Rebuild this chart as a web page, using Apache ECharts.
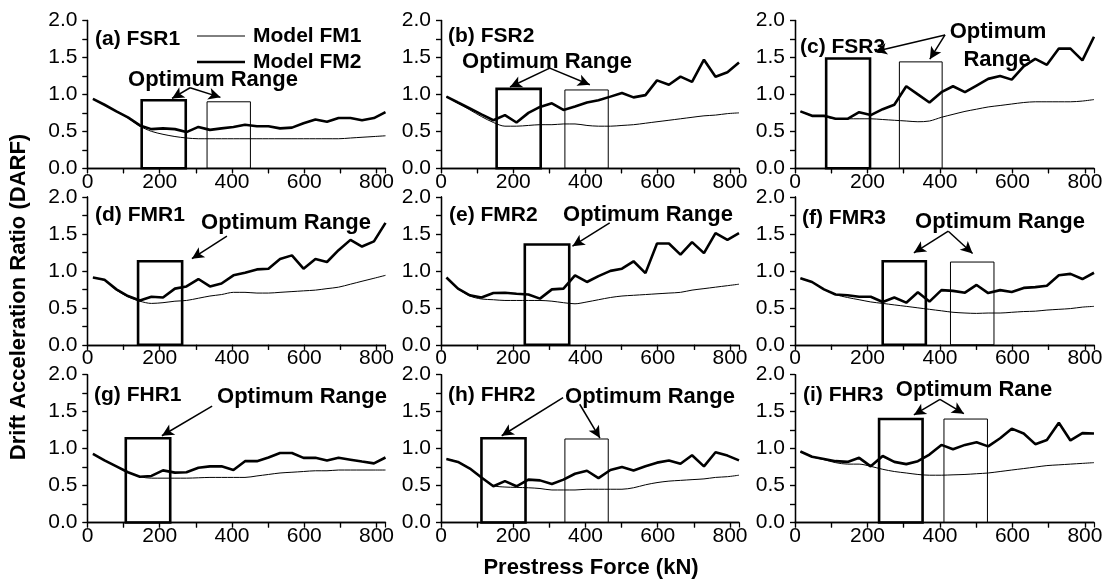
<!DOCTYPE html>
<html><head><meta charset="utf-8">
<script src="https://cdn.jsdelivr.net/npm/echarts@6/dist/echarts.min.js"></script>
<style>html,body{margin:0;padding:0;background:#fff}#c{width:1109px;height:584px}</style>
</head><body><div id="c"></div>
<script>
// Prestress force samples (kN)
const xs = [15,47,80,112,145,177,209,242,274,307,339,371,404,436,469,501,533,566,598,631,663,695,728,760,793,825];
const panelNames = ['(a) FSR1','(b) FSR2','(c) FSR3','(d) FMR1','(e) FMR2','(f) FMR3','(g) FHR1','(h) FHR2','(i) FHR3'];
const seriesNames = ['Model FM1', 'Model FM2'];
const xTicks = [0,200,400,600,800];
const yTicks = ['0.0','0.5','1.0','1.5','2.0'];

const fm1_a = [0.94,0.86,0.77,0.68,0.57,0.50,0.46,0.43,0.41,0.40,0.40,0.40,0.40,0.40,0.40,0.40,0.40,0.40,0.40,0.40,0.40,0.40,0.41,0.42,0.43,0.44];
const fm2_a = [0.94,0.86,0.77,0.69,0.58,0.53,0.54,0.53,0.49,0.56,0.52,0.54,0.56,0.59,0.57,0.57,0.54,0.55,0.61,0.66,0.63,0.68,0.68,0.65,0.68,0.76];
const fm1_b = [0.97,0.88,0.79,0.70,0.62,0.57,0.57,0.58,0.59,0.59,0.60,0.60,0.58,0.57,0.57,0.58,0.59,0.61,0.63,0.65,0.67,0.69,0.71,0.72,0.74,0.75];
const fm2_b = [0.97,0.89,0.81,0.73,0.65,0.72,0.62,0.75,0.83,0.88,0.79,0.835,0.89,0.92,0.97,1.02,0.96,0.99,1.19,1.13,1.24,1.17,1.47,1.24,1.30,1.43];
const fm1_c = [0.77,0.71,0.70,0.67,0.67,0.67,0.67,0.66,0.65,0.64,0.63,0.64,0.69,0.73,0.77,0.80,0.83,0.85,0.87,0.89,0.90,0.90,0.90,0.90,0.91,0.93];
const fm2_c = [0.77,0.71,0.71,0.67,0.67,0.76,0.72,0.80,0.86,1.11,1.00,0.89,1.03,1.11,1.03,1.12,1.21,1.25,1.20,1.38,1.48,1.40,1.62,1.62,1.46,1.78];
const fm1_d = [0.91,0.87,0.74,0.65,0.59,0.56,0.57,0.59,0.60,0.63,0.66,0.68,0.71,0.71,0.70,0.70,0.71,0.72,0.73,0.74,0.76,0.78,0.82,0.86,0.90,0.94];
const fm2_d = [0.91,0.88,0.75,0.66,0.60,0.65,0.64,0.76,0.79,0.89,0.79,0.83,0.94,0.975,1.02,1.03,1.16,1.21,1.03,1.16,1.12,1.28,1.42,1.33,1.40,1.65];
const fm1_e = [0.90,0.76,0.66,0.62,0.61,0.60,0.60,0.60,0.60,0.59,0.57,0.555,0.58,0.61,0.64,0.66,0.67,0.68,0.69,0.70,0.71,0.74,0.76,0.78,0.80,0.82];
const fm2_e = [0.91,0.76,0.67,0.64,0.70,0.705,0.69,0.68,0.625,0.75,0.76,0.94,0.85,0.93,1.00,1.03,1.13,0.97,1.37,1.37,1.22,1.39,1.24,1.51,1.42,1.51];
const fm1_f = [0.90,0.85,0.75,0.68,0.64,0.61,0.58,0.56,0.54,0.52,0.50,0.48,0.46,0.44,0.43,0.425,0.43,0.43,0.44,0.45,0.455,0.47,0.48,0.49,0.51,0.52];
const fm2_f = [0.90,0.85,0.75,0.68,0.67,0.65,0.65,0.58,0.64,0.57,0.71,0.585,0.74,0.73,0.705,0.81,0.70,0.74,0.715,0.77,0.78,0.80,0.94,0.96,0.89,0.975];
const fm1_g = [0.93,0.84,0.76,0.68,0.62,0.60,0.60,0.60,0.60,0.605,0.61,0.61,0.61,0.61,0.63,0.65,0.67,0.68,0.69,0.70,0.70,0.71,0.71,0.71,0.71,0.71];
const fm2_g = [0.93,0.84,0.76,0.68,0.62,0.63,0.705,0.675,0.68,0.74,0.76,0.76,0.71,0.83,0.83,0.88,0.94,0.94,0.875,0.875,0.84,0.875,0.85,0.825,0.80,0.88];
const fm1_h = [0.86,0.82,0.73,0.61,0.50,0.48,0.475,0.47,0.46,0.44,0.44,0.44,0.45,0.45,0.45,0.45,0.47,0.51,0.54,0.56,0.57,0.58,0.59,0.61,0.62,0.64];
const fm2_h = [0.86,0.82,0.73,0.61,0.49,0.56,0.49,0.58,0.57,0.52,0.58,0.66,0.70,0.60,0.71,0.75,0.705,0.76,0.81,0.84,0.795,0.91,0.76,0.95,0.905,0.84];
const fm1_i = [0.96,0.89,0.85,0.81,0.79,0.79,0.76,0.72,0.69,0.67,0.65,0.64,0.64,0.645,0.65,0.66,0.67,0.69,0.71,0.73,0.75,0.77,0.78,0.79,0.80,0.81];
const fm2_i = [0.96,0.89,0.86,0.83,0.82,0.875,0.76,0.90,0.82,0.79,0.83,0.92,1.05,0.99,1.05,1.085,1.03,1.14,1.27,1.205,1.06,1.115,1.35,1.11,1.21,1.205];

const fm1All = [fm1_a,fm1_b,fm1_c,fm1_d,fm1_e,fm1_f,fm1_g,fm1_h,fm1_i];
const fm2All = [fm2_a,fm2_b,fm2_c,fm2_d,fm2_e,fm2_f,fm2_g,fm2_h,fm2_i];

// Optimum range boxes [from kN, to kN, top DARF]
const boxFM2 = [[150,272,0.92],[154,276,1.075],[86,207,1.485],[140,262,1.13],[232,355,1.357],[242,361,1.13],[106,229,1.14],[112,234,1.14],[232,352,1.40]];
const boxFM1 = [[331,451,0.90],[343,463,1.06],[288,406,1.44],null,null,[429,549,1.12],null,[343,463,1.13],[411,531,1.40]];
// Arrows [[x0,y0],[x1,y1]] in data units
const arrows = [
  [[[284,1.09],[234,0.945]],[[284,1.09],[368,0.96]]],
  [[[301,1.355],[191,1.10]],[[301,1.355],[412,1.13]]],
  [[[414,1.805],[221,1.58]],[[414,1.805],[372,1.476]]],
  [[[386,1.47],[289,1.165]]],
  [[[467,1.65],[364,1.335]]],
  [[[423,1.537],[328,1.245]],[[423,1.537],[490,1.236]]],
  [[[345,1.576],[206,1.174]]],
  [[[338,1.69],[168,1.174]],[[384,1.60],[440,1.143]]],
  [[[400,1.665],[328,1.455]],[[400,1.665],[466,1.473]]]
];

const FONT = 'Liberation Sans, Arial, Helvetica, sans-serif';
const colLeft = [87.5, 441, 795];
const colWidth = [298, 298, 299];
const rowTop = [20.5, 197, 374.7];
const H = 147.8;

const grids = [], xAxes = [], yAxes = [], series = [];
for (let i = 0; i < 9; i++) {
  const r = Math.floor(i / 3), c = i % 3;
  grids.push({left: colLeft[c], top: rowTop[r], width: colWidth[c], height: H, containLabel: false});
  const axLine = {show: true, lineStyle: {color: '#000', width: 1.3}};
  xAxes.push({gridIndex: i, type: 'value', min: 0, max: 825, interval: 100, position: 'bottom',
    axisLine: axLine, splitLine: {show: false},
    axisTick: {show: true, inside: false, length: 5, lineStyle: {color: '#000', width: 1.2}},
    axisLabel: {show: true, color: '#000', fontSize: 21, fontFamily: FONT, margin: 3, showMaxLabel: false,
      formatter: v => xTicks.indexOf(v) >= 0 ? String(v) : ''}});
  xAxes.push({gridIndex: i, type: 'value', min: 0, max: 825, interval: 100, position: 'top',
    axisLine: axLine, splitLine: {show: false},
    axisTick: {show: true, inside: true, length: 5, lineStyle: {color: '#000', width: 1.2}},
    axisLabel: {show: false}});
  yAxes.push({gridIndex: i, type: 'value', min: 0, max: 2, interval: 0.25, position: 'left',
    axisLine: axLine, splitLine: {show: false},
    axisTick: {show: true, inside: false, length: 5, lineStyle: {color: '#000', width: 1.2}},
    axisLabel: {show: true, color: '#000', fontSize: 21, fontFamily: FONT, margin: 10,
      formatter: v => (Math.abs(v * 2 - Math.round(v * 2)) < 1e-6) ? yTicks[Math.round(v * 2)] : ''}});
  yAxes.push({gridIndex: i, type: 'value', min: 0, max: 2, interval: 0.25, position: 'right',
    axisLine: axLine, splitLine: {show: false},
    axisTick: {show: true, inside: true, length: 5, lineStyle: {color: '#000', width: 1.2}},
    axisLabel: {show: false}});

  const fm1 = fm1All[i].map((v, k) => [xs[k], v]);
  const fm2 = fm2All[i].map((v, k) => [xs[k], v]);
  const b1 = boxFM1[i], b2 = boxFM2[i];
  series.push({name: seriesNames[0], type: 'line', xAxisIndex: 2 * i, yAxisIndex: 2 * i, data: fm1,
    symbol: 'none', smooth: 0.3, lineStyle: {color: '#000', width: 1}, itemStyle: {color: '#000'}, z: 3,
    markArea: b1 ? {silent: true, itemStyle: {color: 'rgba(0,0,0,0)', borderColor: '#000', borderWidth: 1},
      data: [[{xAxis: b1[0], yAxis: 0}, {xAxis: b1[1], yAxis: b1[2]}]]} : undefined});
  series.push({name: seriesNames[1], type: 'line', xAxisIndex: 2 * i, yAxisIndex: 2 * i, data: fm2,
    symbol: 'none', lineStyle: {color: '#000', width: 2.6}, itemStyle: {color: '#000'}, z: 4,
    markArea: {silent: true, itemStyle: {color: 'rgba(0,0,0,0)', borderColor: '#000', borderWidth: 2.6},
      data: [[{xAxis: b2[0], yAxis: 0}, {xAxis: b2[1], yAxis: b2[2]}]]},
    markLine: {silent: true, symbol: ['none', 'arrow'], symbolSize: [9, 12], animation: false,
      lineStyle: {color: '#000', width: 1.5, type: 'solid'}, label: {show: false},
      data: arrows[i].map(a => [{coord: a[0]}, {coord: a[1]}])}});
}

const bold = (sz) => 'bold ' + sz + 'px ' + FONT;
const texts = [
  // panel labels
  [95, 39, panelNames[0], 'left'], [448, 36, panelNames[1], 'left'], [800, 47, panelNames[2], 'left'],
  [95, 215, panelNames[3], 'left'], [449, 215, panelNames[4], 'left'], [802, 218, panelNames[5], 'left'],
  [94, 395, panelNames[6], 'left'], [448, 395, panelNames[7], 'left'], [803, 395, panelNames[8], 'left'],
  // optimum range labels
  [213, 80, 'Optimum Range', 'center', 22], [547, 62, 'Optimum Range', 'center', 22],
  [998, 32, 'Optimum', 'center', 22], [997, 60, 'Range', 'center', 22],
  [286, 223, 'Optimum Range', 'center', 22], [648, 215, 'Optimum Range', 'center', 22], [1000, 222, 'Optimum Range', 'center', 22],
  [302, 397, 'Optimum Range', 'center', 22], [650, 397, 'Optimum Range', 'center', 22], [974, 390, 'Optimum Rane', 'center', 22],
  // legend texts
  [253, 36, seriesNames[0], 'left'], [253, 62, seriesNames[1], 'left'],
  [591, 568, 'Prestress Force (kN)', 'center', 22]
];
const graphic = texts.map(t => ({type: 'text', x: t[0], y: t[1], z: 100,
  style: {text: t[2], font: bold(t[4] || 21), fill: '#000', textAlign: t[3], textVerticalAlign: 'middle'}}));
graphic.push({type: 'text', x: 19, y: 297, rotation: Math.PI / 2, z: 100,
  style: {text: 'Drift Acceleration Ratio (DARF)', font: bold(22), fill: '#000', textAlign: 'center', textVerticalAlign: 'middle'}});
// legend line samples
graphic.push({type: 'line', z: 100, shape: {x1: 197, y1: 36, x2: 245, y2: 36}, style: {stroke: '#000', lineWidth: 1}});
graphic.push({type: 'line', z: 100, shape: {x1: 197, y1: 62, x2: 245, y2: 62}, style: {stroke: '#000', lineWidth: 2.6}});

const chart = echarts.init(document.getElementById('c'), null, {renderer: 'canvas'});
chart.setOption({
  animation: false,
  backgroundColor: '#fff',
  grid: grids, xAxis: xAxes, yAxis: yAxes, series: series,
  graphic: graphic
});
</script></body></html>
